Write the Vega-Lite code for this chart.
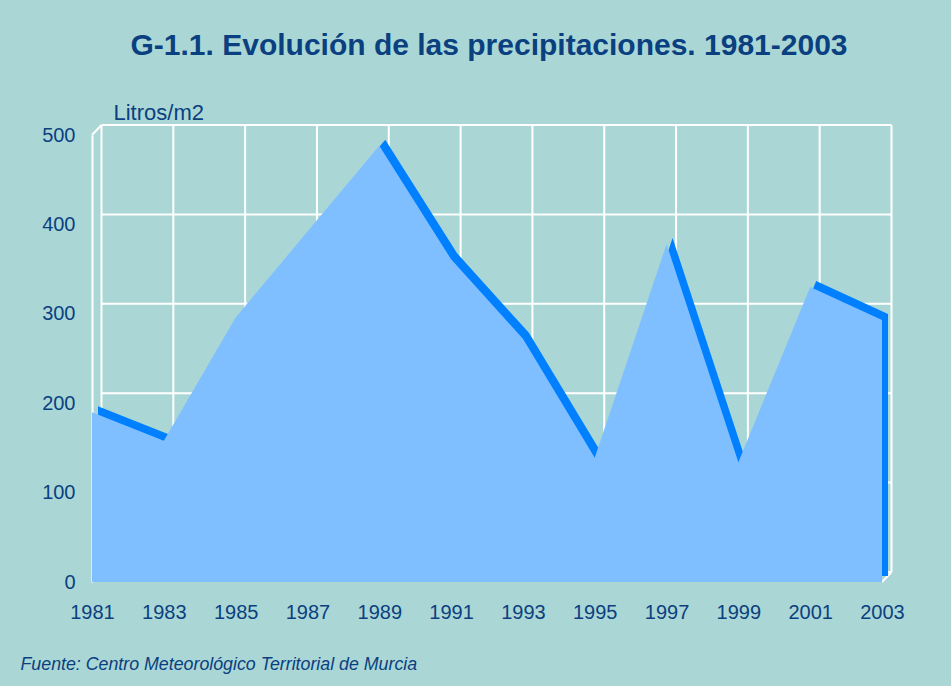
{
  "$schema": "https://vega.github.io/schema/vega-lite/v6.json",
  "width": 790,
  "height": 447,
  "autosize": {"type": "none"},
  "padding": {"left": 92, "top": 135, "right": 69, "bottom": 104},
  "background": "#AAD7D5",
  "config": {"view": {"stroke": null}, "font": "Liberation Sans"},
  "title": {
    "text": "G-1.1. Evolución de las precipitaciones. 1981-2003",
    "fontSize": 30,
    "fontWeight": "bold",
    "color": "#0B4080",
    "anchor": "middle",
    "frame": "group",
    "offset": 40,
    "dx": 2
  },
  "datasets": {
    "rain": [
      {"year": 1981, "precip": 190},
      {"year": 1983, "precip": 158},
      {"year": 1985, "precip": 296},
      {"year": 1987, "precip": 392},
      {"year": 1989, "precip": 488},
      {"year": 1991, "precip": 361},
      {"year": 1993, "precip": 272},
      {"year": 1995, "precip": 139},
      {"year": 1997, "precip": 378},
      {"year": 1999, "precip": 134},
      {"year": 2001, "precip": 330},
      {"year": 2003, "precip": 293}
    ],
    "levels": [{"v": 0}, {"v": 100}, {"v": 200}, {"v": 300}, {"v": 400}, {"v": 500}],
    "corners": [{"year": 1981, "v": 500}, {"year": 2003, "v": 0}]
  },
  "layer": [
    {
      "data": {"name": "rain"},
      "mark": {"type": "rule", "color": "white", "strokeWidth": 2, "xOffset": 9.5, "yOffset": -10, "y2Offset": -10},
      "encoding": {
        "x": {
          "field": "year",
          "type": "quantitative",
          "scale": {"domain": [1981, 2003], "nice": false, "zero": false},
          "axis": {
            "title": "Fuente: Centro Meteorológico Territorial de Murcia",
            "titleFontStyle": "italic",
            "titleFontWeight": "normal",
            "titleFontSize": 17.8,
            "titleColor": "#0B4080",
            "titleAlign": "left",
            "titleBaseline": "alphabetic",
            "titleX": -72,
            "titleY": 87,
            "values": [1981, 1983, 1985, 1987, 1989, 1991, 1993, 1995, 1997, 1999, 2001, 2003],
            "format": "d",
            "labelFontSize": 20,
            "labelColor": "#0B4080",
            "labelPadding": 20,
            "labelFlush": false,
            "labelOverlap": false,
            "ticks": false,
            "tickSize": 0,
            "domain": false,
            "grid": false
          }
        },
        "y": {
          "datum": 0,
          "type": "quantitative",
          "scale": {"domain": [0, 500], "nice": false},
          "axis": {
            "title": "Litros/m2",
            "titleAngle": 0,
            "titleAlign": "left",
            "titleBaseline": "alphabetic",
            "titleX": 21,
            "titleY": -16,
            "titleFontSize": 22,
            "titleFontWeight": "normal",
            "titleColor": "#0B4080",
            "values": [0, 100, 200, 300, 400, 500],
            "labelFontSize": 20,
            "labelColor": "#0B4080",
            "labelPadding": 17,
            "ticks": false,
            "tickSize": 0,
            "grid": false,
            "domainColor": "white",
            "domainWidth": 2
          }
        },
        "y2": {"datum": 500}
      }
    },
    {
      "data": {"name": "levels"},
      "mark": {"type": "rule", "color": "white", "strokeWidth": 2, "xOffset": 9.5, "x2Offset": 9.5, "yOffset": -10},
      "encoding": {
        "y": {"field": "v", "type": "quantitative"},
        "x": {"datum": 1981, "type": "quantitative"},
        "x2": {"datum": 2003}
      }
    },
    {
      "data": {"name": "corners"},
      "mark": {"type": "rule", "color": "white", "strokeWidth": 2, "x2Offset": 9.5, "y2Offset": -10},
      "encoding": {
        "x": {"field": "year", "type": "quantitative"},
        "y": {"field": "v", "type": "quantitative"},
        "x2": {"field": "year"},
        "y2": {"field": "v"}
      }
    },
    {
      "data": {"name": "rain"},
      "mark": {"type": "area", "color": "#0080FF", "opacity": 1, "xOffset": 6, "yOffset": -6, "y2Offset": -6},
      "encoding": {
        "x": {"field": "year", "type": "quantitative"},
        "y": {"field": "precip", "type": "quantitative"},
        "y2": {"datum": 0}
      }
    },
    {
      "data": {"name": "rain"},
      "mark": {"type": "area", "color": "#80BFFF", "opacity": 1},
      "encoding": {
        "x": {"field": "year", "type": "quantitative"},
        "y": {"field": "precip", "type": "quantitative"}
      }
    }
  ]
}
